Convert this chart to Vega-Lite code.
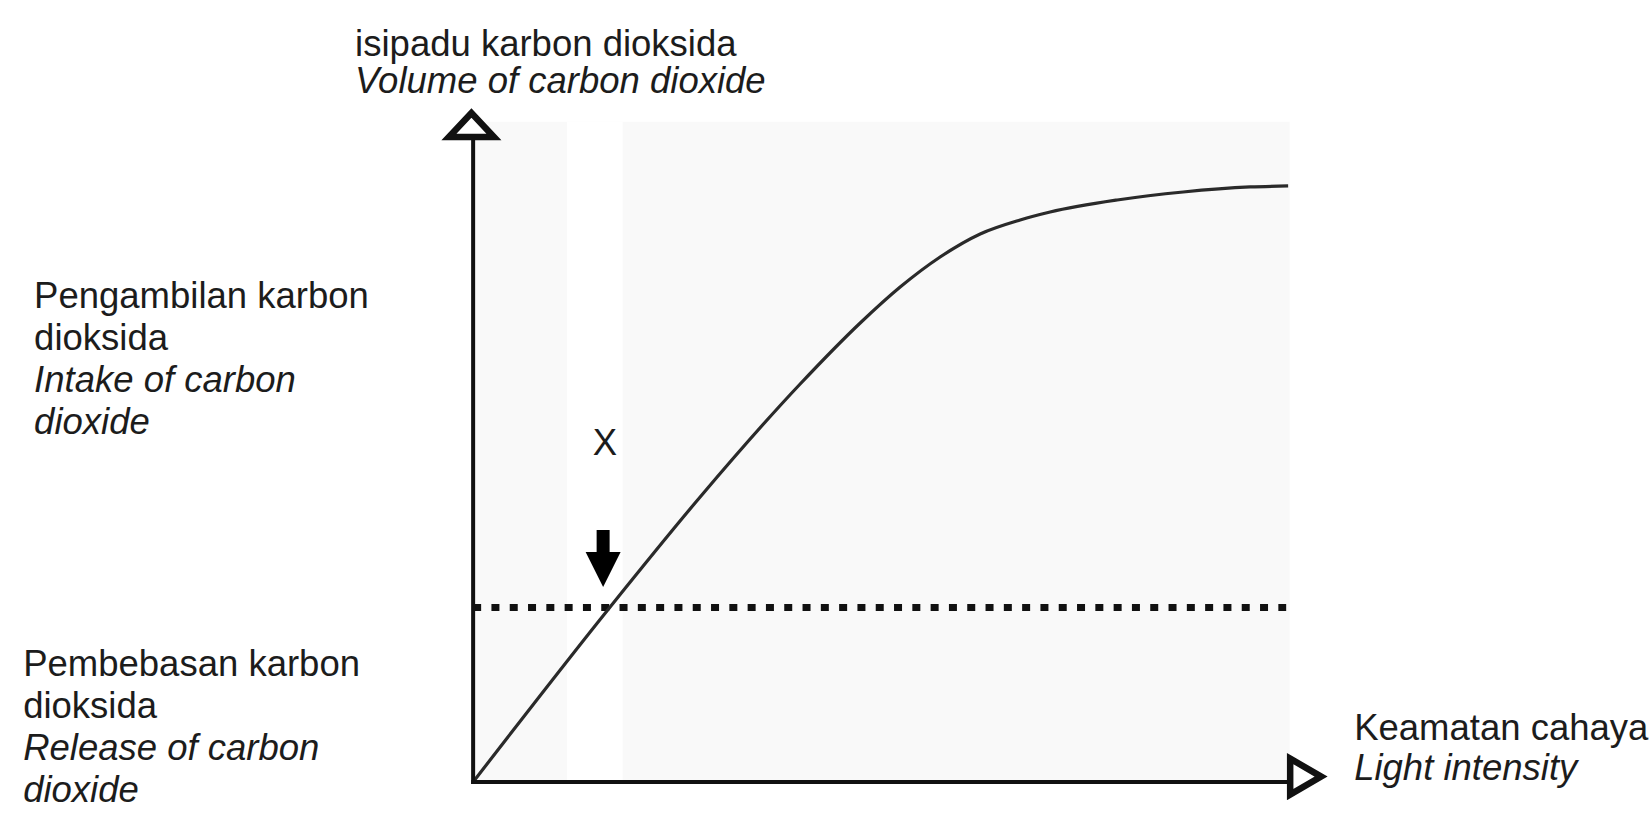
{
  "$schema": "https://vega.github.io/schema/vega-lite/v6.json",
  "width": 1650,
  "height": 816,
  "padding": 0,
  "autosize": {"type": "fit", "contains": "padding"},
  "background": "#ffffff",
  "config": {"view": {"stroke": null}},
  "datasets": {
    "bg": [
      {"part": "panel", "x": 0, "x2": 95.6, "y": 0, "y2": 97.8},
      {"part": "strip", "x": 11.0, "x2": 17.5, "y": 0, "y2": 97.8}
    ],
    "axes": [
      {"axis": "y", "x": 0, "x2": 0, "y": 0, "y2": 95.6},
      {"axis": "x", "x": 0, "x2": 95.7, "y": 0, "y2": 0}
    ],
    "curve": [
      {"light": 0, "co2": 0},
      {"light": 16.04, "co2": 25.93},
      {"light": 26.58, "co2": 42.22},
      {"light": 38.29, "co2": 58.96},
      {"light": 45.32, "co2": 68.0},
      {"light": 50.0, "co2": 73.33},
      {"light": 54.68, "co2": 77.78},
      {"light": 59.37, "co2": 81.19},
      {"light": 64.05, "co2": 83.26},
      {"light": 67.56, "co2": 84.44},
      {"light": 75.41, "co2": 86.22},
      {"light": 83.14, "co2": 87.41},
      {"light": 90.98, "co2": 88.15},
      {"light": 95.43, "co2": 88.3}
    ],
    "compensation": [{"x": 0, "x2": 95.2, "y": 25.85}],
    "shaft": [{"x": 15.22, "y": 37.33, "y2": 33.3}],
    "head": [{"x": 15.22, "y": 31.48}],
    "yarrow": [{"x": -0.2, "y": 97.33}],
    "xarrow": [{"x": 97.48, "y": 0.8}],
    "labels": [
      {"label": "isipadu karbon dioksida", "x": -13.82, "y": 107.6},
      {"label": "Pengambilan karbon", "x": -51.41, "y": 70.22},
      {"label": "dioksida", "x": -51.41, "y": 64.0},
      {"label": "Pembebasan karbon", "x": -52.69, "y": 15.7},
      {"label": "dioksida", "x": -52.69, "y": 9.48},
      {"label": "Keamatan cahaya", "x": 103.16, "y": 6.22},
      {"label": "X", "x": 14.0, "y": 48.44}
    ],
    "italics": [
      {"label": "Volume of carbon dioxide", "x": -13.82, "y": 102.1},
      {"label": "Intake of carbon", "x": -51.41, "y": 57.78},
      {"label": "dioxide", "x": -51.41, "y": 51.56},
      {"label": "Release of carbon", "x": -52.69, "y": 3.26},
      {"label": "dioxide", "x": -52.69, "y": -2.96},
      {"label": "Light intensity", "x": 103.16, "y": 0.3}
    ]
  },
  "layer": [
    {
      "data": {"name": "bg"},
      "mark": {"type": "rect"},
      "encoding": {
        "x": {"field": "x", "type": "quantitative", "scale": {"domain": [-55.4, 137.8], "nice": false, "zero": false}, "axis": null},
        "x2": {"field": "x2"},
        "y": {"field": "y", "type": "quantitative", "scale": {"domain": [-5.04, 115.85], "nice": false, "zero": false}, "axis": null},
        "y2": {"field": "y2"},
        "color": {"field": "part", "type": "nominal", "scale": {"domain": ["panel", "strip"], "range": ["#f9f9f9", "#ffffff"]}, "legend": null}
      }
    },
    {
      "data": {"name": "compensation"},
      "mark": {"type": "rule", "color": "#111111", "strokeWidth": 7, "strokeDash": [8, 10.3], "strokeCap": "butt"},
      "encoding": {
        "x": {"field": "x", "type": "quantitative"},
        "x2": {"field": "x2"},
        "y": {"field": "y", "type": "quantitative"}
      }
    },
    {
      "data": {"name": "curve"},
      "mark": {"type": "line", "color": "#2a2a2a", "strokeWidth": 3.2, "interpolate": "monotone", "strokeCap": "butt"},
      "encoding": {
        "x": {"field": "light", "type": "quantitative"},
        "y": {"field": "co2", "type": "quantitative"}
      }
    },
    {
      "data": {"name": "axes"},
      "mark": {"type": "rule", "color": "#111111", "strokeWidth": 4, "strokeCap": "square"},
      "encoding": {
        "x": {"field": "x", "type": "quantitative"},
        "x2": {"field": "x2"},
        "y": {"field": "y", "type": "quantitative"},
        "y2": {"field": "y2"}
      }
    },
    {
      "data": {"name": "yarrow"},
      "mark": {"type": "point", "shape": "M0,-0.53L1,0.53L-1,0.53Z", "size": 2025, "filled": true, "fill": "#ffffff", "stroke": "#111111", "strokeWidth": 6.5, "opacity": 1},
      "encoding": {
        "x": {"field": "x", "type": "quantitative"},
        "y": {"field": "y", "type": "quantitative"}
      }
    },
    {
      "data": {"name": "xarrow"},
      "mark": {"type": "point", "shape": "M-0.86,-1L0.86,0L-0.86,1Z", "size": 1296, "filled": true, "fill": "#ffffff", "stroke": "#111111", "strokeWidth": 6.5, "opacity": 1},
      "encoding": {
        "x": {"field": "x", "type": "quantitative"},
        "y": {"field": "y", "type": "quantitative"}
      }
    },
    {
      "data": {"name": "shaft"},
      "mark": {"type": "rule", "color": "#000000", "strokeWidth": 13, "strokeCap": "butt"},
      "encoding": {
        "x": {"field": "x", "type": "quantitative"},
        "y": {"field": "y", "type": "quantitative"},
        "y2": {"field": "y2"}
      }
    },
    {
      "data": {"name": "head"},
      "mark": {"type": "point", "shape": "M-1,-1L1,-1L0,1Z", "size": 1225, "filled": true, "color": "#000000", "opacity": 1},
      "encoding": {
        "x": {"field": "x", "type": "quantitative"},
        "y": {"field": "y", "type": "quantitative"}
      }
    },
    {
      "data": {"name": "labels"},
      "mark": {"type": "text", "align": "left", "baseline": "alphabetic", "font": "Liberation Sans", "fontSize": 36.5, "color": "#1c1c1c"},
      "encoding": {
        "x": {"field": "x", "type": "quantitative"},
        "y": {"field": "y", "type": "quantitative"},
        "text": {"field": "label"}
      }
    },
    {
      "data": {"name": "italics"},
      "mark": {"type": "text", "align": "left", "baseline": "alphabetic", "font": "Liberation Sans", "fontSize": 36.5, "fontStyle": "italic", "color": "#1c1c1c"},
      "encoding": {
        "x": {"field": "x", "type": "quantitative"},
        "y": {"field": "y", "type": "quantitative"},
        "text": {"field": "label"}
      }
    }
  ]
}
